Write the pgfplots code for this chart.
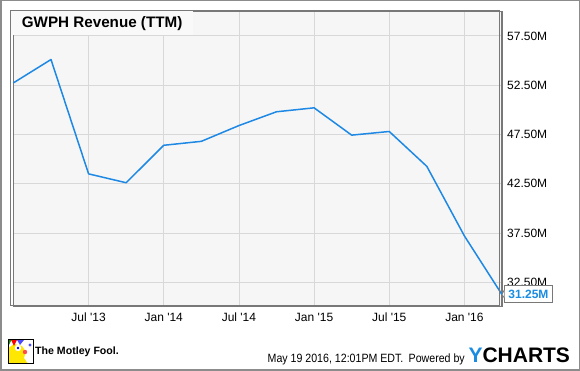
\documentclass[border=0pt]{standalone}
\usepackage{fontspec}
\setmainfont{Liberation Sans}
\usepackage{pgfplots}
\pgfplotsset{compat=1.18}
\definecolor{lineblue}{RGB}{30,136,229}
\definecolor{ybl}{RGB}{26,140,226}
\definecolor{gridgray}{RGB}{216,216,216}
\definecolor{framegray}{RGB}{120,120,120}
\definecolor{bggray}{RGB}{246,246,246}
\definecolor{titlebg}{RGB}{249,249,249}
\definecolor{outergray}{RGB}{140,140,140}
\begin{document}
\begin{tikzpicture}[x=1pt,y=1pt]
\useasboundingbox (0,0) rectangle (580,371);
\fill[white] (0,0) rectangle (580,371);
\draw[outergray, line width=1.5pt] (0.75,0.75) rectangle (579.25,370.25);
\begin{axis}[
  at={(10.7,65.5)}, anchor=south west,
  scale only axis, width=488.6pt, height=295.2pt,
  xmin=-6, xmax=33, ymin=30.05, ymax=60,
  xtick={0,6,12,18,24,30},
  xticklabels={Jul \textquotesingle13, Jan \textquotesingle14, Jul \textquotesingle14, Jan \textquotesingle15, Jul \textquotesingle15, Jan \textquotesingle16},
  ytick={32.5,37.5,42.5,47.5,52.5,57.5},
  yticklabels={32.50M,37.50M,42.50M,47.50M,52.50M,57.50M},
  yticklabel pos=right,
  major tick length=0pt,
  grid=major,
  grid style={color=gridgray, line width=0.8pt},
  axis line style={color=framegray, line width=1.2pt},
  axis background/.style={fill=bggray},
  tick label style={font=\fontsize{12}{14}\selectfont, text=black, inner sep=0pt},
  xticklabel style={anchor=center, yshift=-11.2pt},
  yticklabel style={anchor=west, xshift=5pt},
  clip=false,
]
\addplot[lineblue, line width=1.5pt, line join=round] coordinates {
(-6,52.73) (-3,55.1) (0,43.5) (3,42.6) (6,46.4) (9,46.8) (12,48.4) (15,49.8)
(18,50.2) (21,47.43) (24,47.8) (27,44.26) (30,37.2) (33,31.25)
};
\coordinate (last) at (axis cs:33,31.25);
\end{axis}
% frame on top
\draw[framegray, line width=1.2pt] (10.7,65.5) rectangle (499.3,360.7);
% title box
\fill[titlebg] (11.4,371-34.8) rectangle (193,371-11);
\node[anchor=west, inner sep=0pt, font=\fontsize{15.2}{17}\selectfont\bfseries] at (21.7,371-24) {GWPH Revenue (TTM)};
% value label
\node[anchor=west, draw=framegray, fill=white, line width=0.8pt, inner xsep=3.7pt, inner ysep=4.5pt, text height=8.6pt, text depth=0pt, font=\fontsize{12}{14}\selectfont\bfseries, text=ybl] (vl) at (504.3,371-293.8) {31.25M};
\draw[framegray, line width=0.8pt, fill=white] ([yshift=4pt]vl.west) -- (last) -- ([yshift=-4pt]vl.west);
\fill[white] ([yshift=3.5pt,xshift=0.4pt]vl.west) rectangle ([yshift=-3.5pt,xshift=1pt]vl.west);
% logo
\begin{scope}
\fill[white] (8.5,371-364) rectangle (33.3,371-340);
\fill[yellow!90!orange] (8.5,371-364) -- (8.5,371-348) -- (14,371-344) -- (22,371-346) -- (26,371-352) -- (24,371-358) -- (28,371-364) -- cycle;
\fill[red] (11,371-340) -- (17,371-340) -- (14,371-346) -- cycle;
\fill[green!60!black] (8.5,371-340) -- (11.5,371-340) -- (8.5,371-346) -- cycle;
\fill[blue!70] (17,371-340) -- (24,371-340) -- (20,371-345) -- cycle;
\fill[white] (18,371-348) circle (3.2);
\fill[blue!80!black] (18,371-348) circle (1.3);
\fill[red!70!white] (25,371-352) circle (2.2);
\fill[blue!70] (30,371-345) circle (1.6);
\draw[black, line width=1pt] (8.5,371-364) rectangle (33.3,371-340);
\end{scope}
\node[anchor=west, inner sep=0pt, font=\fontsize{10.6}{12}\selectfont\bfseries] at (35,371-351.7) {The Motley Fool.};
% footer
\node[anchor=east, inner sep=0pt, xscale=0.885, font=\fontsize{12}{14}\selectfont] at (465,371-359) {May 19 2016, 12:01PM EDT.\enspace Powered by};
\node[anchor=base west, inner sep=0pt, font=\fontsize{21}{24}\selectfont\bfseries] at (468.3,371-362.7) {\textcolor{ybl}{Y}CHARTS};
\end{tikzpicture}
\end{document}
